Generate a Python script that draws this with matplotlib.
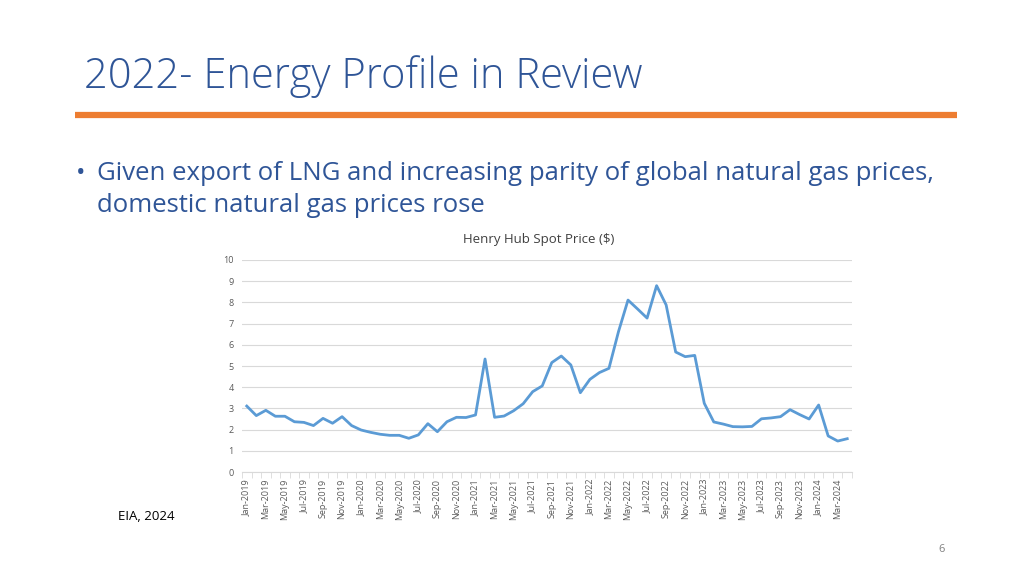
import matplotlib.pyplot as plt
import numpy as np

months = ["Jan", "Feb", "Mar", "Apr", "May", "Jun", "Jul", "Aug", "Sep", "Oct", "Nov", "Dec"]
labels = [f"{m}-{y}" for y in range(2019, 2025) for m in months][:64]

prices = [
    3.11, 2.66, 2.91, 2.63, 2.63, 2.37, 2.34, 2.19, 2.53, 2.30, 2.61, 2.19,
    1.98, 1.87, 1.78, 1.73, 1.73, 1.59, 1.75, 2.28, 1.90, 2.37, 2.58, 2.57,
    2.69, 5.33, 2.58, 2.64, 2.89, 3.22, 3.79, 4.06, 5.16, 5.47, 5.05, 3.74,
    4.37, 4.69, 4.89, 6.62, 8.11, 7.69, 7.26, 8.79, 7.88, 5.66, 5.44, 5.50,
    3.24, 2.36, 2.26, 2.14, 2.13, 2.15, 2.51, 2.55, 2.61, 2.94, 2.71, 2.50,
    3.16, 1.70, 1.46, 1.57,
]

blue = "#2F5597"
fig = plt.figure(figsize=(10.24, 5.76), dpi=100)
fig.patch.set_facecolor("white")

# slide header
fig.text(84 / 1024, 1 - 77 / 576, "2022- Energy Profile in Review", fontsize=30,
         color=blue, family="Open Sans", weight="light", va="center", ha="left")
fig.add_artist(plt.Line2D([75 / 1024, 957 / 1024], [1 - 115 / 576, 1 - 115 / 576],
                          color="#ED7D31", lw=4.5, solid_capstyle="butt",
                          transform=fig.transFigure))

fig.text(76 / 1024, 1 - 173 / 576, "•", fontsize=18, color=blue, family="Open Sans",
         va="center", ha="left")
fig.text(97 / 1024, 1 - 173 / 576,
         "Given export of LNG and increasing parity of global natural gas prices,",
         fontsize=18.5, color=blue, family="Open Sans", va="center", ha="left")
fig.text(97 / 1024, 1 - 205 / 576, "domestic natural gas prices rose",
         fontsize=18.5, color=blue, family="Open Sans", va="center", ha="left")

fig.text(118 / 1024, 1 - 516 / 576, "EIA, 2024", fontsize=9.5, color="black",
         family="Open Sans", va="center", ha="left")
fig.text(942 / 1024, 1 - 549 / 576, "6", fontsize=8, color="#808080",
         family="Open Sans", va="center", ha="center")

# chart
ax = fig.add_axes([242 / 1024, 1 - 472 / 576, 610 / 1024, 212 / 576])
x = np.arange(len(prices))
ax.plot(x, prices, color="#5B9BD5", lw=2.0)
ax.set_xlim(-0.5, len(prices) - 0.5)
ax.set_ylim(0, 10)
ax.set_yticks(range(0, 11))
ax.grid(axis="y", color="#D9D9D9", lw=0.8)
ax.set_axisbelow(True)
for s in ["top", "right", "left"]:
    ax.spines[s].set_visible(False)
ax.spines["bottom"].set_color("#D9D9D9")
ax.tick_params(axis="y", length=0, labelsize=6.5, labelcolor="#595959", pad=6)
ax.set_xticks(x[::2])
ax.set_xticklabels(labels[::2], rotation=90, fontsize=6.5, color="#595959",
                   family="Open Sans")
ax.set_xticks(np.arange(-0.5, len(prices), 1), minor=True)
ax.tick_params(axis="x", which="major", length=0, pad=5)
ax.tick_params(axis="x", which="minor", length=4, color="#D9D9D9")
for t in ax.get_yticklabels():
    t.set_family("Open Sans")
fig.text(539 / 1024, 1 - 239 / 576, "Henry Hub Spot Price ($)", fontsize=9.5,
         color="#404040", family="Open Sans", ha="center", va="center")

fig.savefig("out.png", dpi=100, facecolor="white")
